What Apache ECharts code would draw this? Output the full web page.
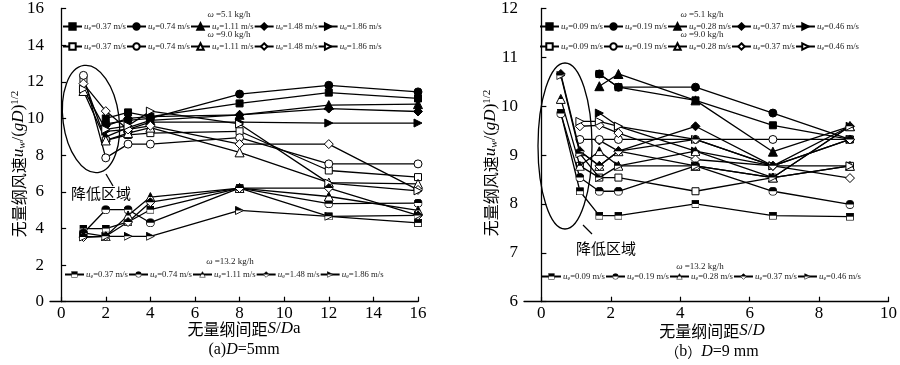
<!DOCTYPE html>
<html><head><meta charset="utf-8">
<script src="https://cdn.jsdelivr.net/npm/echarts@6/dist/echarts.min.js"></script>
<style>html,body{margin:0;padding:0;background:#fff}#c{width:900px;height:365px}</style>
</head><body><div id="c"></div>
<script>
// ---------- DATA ----------
const xLeft = [1, 2, 3, 4, 8, 12, 16];
const xRight = [0.56, 1.11, 1.67, 2.22, 4.44, 6.67, 8.89];
const xTicksLeft = [0, 2, 4, 6, 8, 10, 12, 14, 16];
const xTicksRight = [0, 2, 4, 6, 8, 10];
const speedsLeft = ['0.37', '0.74', '1.11', '1.48', '1.86'];
const speedsRight = ['0.09', '0.19', '0.28', '0.37', '0.46'];
const omegas = ['5.1', '9.0', '13.2'];

// left (D=5mm), ω=5.1
const L51_037 = [null, 10.0, 10.33, 10.1, 10.82, 11.41, 11.09];
const L51_074 = [null, 9.7, 9.9, 10.0, 11.33, 11.81, 11.45];
const L51_111 = [null, 9.0, 9.5, 9.9, 10.2, 10.73, 10.78];
const L51_148 = [null, 9.6, 10.0, 10.1, 10.2, 10.54, 10.38];
const L51_186 = [null, 9.3, 9.4, 9.8, 9.8, 9.75, 9.75];
// left, ω=9.0
const L90_037 = [12.15, 8.8, 9.1, 9.2, 9.3, 7.16, 6.8];
const L90_074 = [12.35, 7.85, 8.6, 8.6, 8.95, 7.52, 7.52];
const L90_111 = [11.5, 8.8, 9.2, 9.5, 8.15, 6.5, 6.43];
const L90_148 = [11.9, 10.4, 9.4, 9.6, 8.6, 8.6, 6.1];
const L90_186 = [11.6, 9.4, 9.6, 10.4, 9.7, 6.47, 6.05];
// left, ω=13.2
const L132_037 = [3.99, 3.99, 4.35, 5.02, 6.2, 4.66, 4.3];
const L132_074 = [3.75, 5.02, 5.02, 4.31, 6.2, 5.35, 5.38];
const L132_111 = [3.75, 3.57, 4.71, 5.71, 6.2, 5.74, 4.98];
const L132_148 = [3.53, 3.57, 4.35, 5.43, 6.2, 6.2, 4.71];
const L132_186 = [3.53, 3.57, 3.57, 3.57, 4.98, 4.66, 4.71];

// right (D=9mm), ω=5.1
const R51_009 = [null, null, 10.66, 10.39, 10.12, 9.61, 9.32];
const R51_019 = [null, null, 10.66, 10.39, 10.39, 9.86, 9.32];
const R51_028 = [null, null, 10.41, 10.66, 10.12, 9.07, 9.59];
const R51_037 = [null, null, 9.3, 9.08, 9.59, 8.78, 9.59];
const R51_046 = [null, null, 9.86, 9.59, 9.08, 8.78, 9.32];
// right, ω=9.0
const R90_009 = [null, 8.78, 8.54, 8.54, 8.26, 8.54, 8.78];
const R90_019 = [null, 9.32, 9.32, 9.32, 9.32, 9.32, 9.32];
const R90_028 = [null, 9.08, 8.78, 9.08, 8.78, 8.54, 8.78];
const R90_037 = [null, 9.59, 9.61, 9.45, 8.91, 8.78, 8.53];
const R90_046 = [null, 9.69, 9.69, 9.59, 9.32, 8.78, 8.78];
// right, ω=13.2
const R132_009 = [9.87, 8.26, 7.76, 7.76, 8.0, 7.76, 7.74];
const R132_019 = [9.85, 8.54, 8.26, 8.26, 8.78, 8.26, 7.99];
const R132_028 = [10.15, 8.78, 9.08, 8.78, 9.08, 8.54, 9.59];
const R132_037 = [10.66, 9.08, 8.78, 9.08, 9.32, 8.78, 9.32];
const R132_046 = [10.63, 9.03, 8.54, 8.78, 8.78, 8.54, 9.59];

const leftSets = [[L51_037, L51_074, L51_111, L51_148, L51_186],
                  [L90_037, L90_074, L90_111, L90_148, L90_186],
                  [L132_037, L132_074, L132_111, L132_148, L132_186]];
const rightSets = [[R51_009, R51_019, R51_028, R51_037, R51_046],
                   [R90_009, R90_019, R90_028, R90_037, R90_046],
                   [R132_009, R132_019, R132_028, R132_037, R132_046]];

// ---------- STYLE ----------
const SERIF = 'Liberation Serif, Times New Roman, serif';
const CJK = 'Noto Sans CJK SC, sans-serif';
const shapeKeys = ['sq', 'ci', 'tr', 'di', 'ar'];
const builtin = {sq: 'rect', ci: 'circle', tr: 'triangle', di: 'diamond', ar: 'path://M0,0L10,5L0,10Z'};
const sizes = {sq: 7, ci: 8, tr: 9, di: 9, ar: 8};
function halfSvg(k) {
  let outline, top;
  if (k === 'sq') { outline = "<rect x='1' y='1' width='18' height='18' fill='#fff' stroke='#000' stroke-width='2'/>"; top = "<rect x='1' y='1' width='18' height='9' fill='#000'/>"; }
  if (k === 'ci') { outline = "<circle cx='10' cy='10' r='9' fill='#fff' stroke='#000' stroke-width='2'/>"; top = "<path d='M1,10 A9,9 0 0 1 19,10 Z' fill='#000'/>"; }
  if (k === 'tr') { outline = "<polygon points='10,1 19,19 1,19' fill='#fff' stroke='#000' stroke-width='2'/>"; top = "<polygon points='10,1 14.5,10 5.5,10' fill='#000'/>"; }
  if (k === 'di') { outline = "<polygon points='10,1 19,10 10,19 1,10' fill='#fff' stroke='#000' stroke-width='2'/>"; top = "<polygon points='10,1 19,10 1,10' fill='#000'/>"; }
  if (k === 'ar') { outline = "<polygon points='1,1 19,10 1,19' fill='#fff' stroke='#000' stroke-width='2'/>"; top = "<polygon points='1,1 19,10 1,10' fill='#000'/>"; }
  const svg = "<svg xmlns='http://www.w3.org/2000/svg' width='20' height='20' viewBox='0 0 20 20'>" + outline + top + "</svg>";
  return 'image://data:image/svg+xml;charset=utf-8,' + encodeURIComponent(svg);
}

const series = [];
const legends = [];
function addPanel(panel, xs, sets, speeds, legendPos) {
  sets.forEach((group, gi) => {
    const names = [];
    group.forEach((vals, si) => {
      const k = shapeKeys[si];
      const name = panel + '|' + omegas[gi] + '|' + speeds[si];
      names.push(name);
      const data = [];
      vals.forEach((v, i) => { if (v !== null) data.push([xs[i], v]); });
      let symbol = builtin[k], itemStyle;
      if (gi === 0) itemStyle = {color: '#000', borderColor: '#000', borderWidth: 1};
      else if (gi === 1) itemStyle = {color: '#fff', borderColor: '#000', borderWidth: 1};
      else { symbol = halfSvg(k); itemStyle = {color: '#000', borderColor: '#000', borderWidth: 0}; }
      series.push({
        name, type: 'line', xAxisIndex: panel === 'L' ? 0 : 1, yAxisIndex: panel === 'L' ? 0 : 1,
        data, symbol, symbolSize: sizes[k] + (gi === 2 ? 1 : 0), showSymbol: true,
        lineStyle: {color: '#000', width: 1.3}, itemStyle, animation: false, z: 2 + gi
      });
    });
    const p = legendPos[gi];
    legends.push({
      data: names, left: p[0], top: p[1], orient: 'horizontal', itemGap: 0,
      itemWidth: 19, itemHeight: 8, padding: 0, selectedMode: false,
      formatter: n => '{i|u}{s|e}{t|=' + n.split('|')[2] + ' m/s}',
      textStyle: {color: '#222', fontFamily: SERIF, fontSize: 9, padding: [0, 0, 0, -3],
        rich: {i: {fontStyle: 'italic', fontSize: 9, fontFamily: SERIF, color: '#222'},
               s: {fontSize: 6, fontFamily: SERIF, color: '#222', padding: [4, 0, 0, 0]},
               t: {fontSize: 8.7, fontFamily: SERIF, color: '#222'}}}
    });
  });
}
addPanel('L', xLeft, leftSets, speedsLeft, [[62, 22], [62, 42], [64, 270]]);
addPanel('R', xRight, rightSets, speedsRight, [[539, 22], [539, 42], [541, 272]]);

function xAxis(grid, max, ticks) {
  return {
    type: 'value', gridIndex: grid, min: -0.5, max,
    axisLine: {show: true, lineStyle: {color: '#000', width: 1.3}},
    axisTick: {show: true, inside: true, length: 5, customValues: ticks, lineStyle: {color: '#000', width: 1.2}},
    axisLabel: {customValues: ticks, color: '#000', fontFamily: SERIF, fontSize: 17, margin: 3},
    splitLine: {show: false}
  };
}
function yAxis(grid, min, max, interval) {
  return {
    type: 'value', gridIndex: grid, min, max, interval,
    axisLine: {show: true, lineStyle: {color: '#000', width: 1.3}},
    axisTick: {show: true, inside: true, length: 5, lineStyle: {color: '#000', width: 1.2}},
    axisLabel: {color: '#000', fontFamily: SERIF, fontSize: 17, margin: 6},
    splitLine: {show: false}
  };
}

function omegaTitle(x, y, val) {
  return {type: 'text', x, y, style: {text: '{w|ω} =' + val + ' kg/h', fill: '#222', font: '9px ' + SERIF,
    align: 'center', verticalAlign: 'middle', rich: {w: {fontStyle: 'italic', fontSize: 9, fontFamily: SERIF, fill: '#222'}}}};
}
const yNameRich = {
  c: {fontFamily: CJK, fontSize: 16, fill: '#000'},
  i: {fontFamily: SERIF, fontStyle: 'italic', fontSize: 17, fill: '#000'},
  sub: {fontFamily: SERIF, fontStyle: 'italic', fontSize: 11, fill: '#000', padding: [7, 0, 0, 0]},
  r: {fontFamily: SERIF, fontSize: 17, fill: '#000'},
  sup: {fontFamily: SERIF, fontSize: 11, fill: '#000', padding: [0, 0, 8, 0]}
};
const yNameText = '{c|无量纲风速}{i|u}{sub|w}{r|/(}{i|gD}{r|)}{sup|1/2}';
function yName(x, y) {
  return {type: 'text', x, y, rotation: Math.PI / 2, style: {text: yNameText, rich: yNameRich, align: 'center', verticalAlign: 'middle'}};
}
const xNameRich = {
  c: {fontFamily: CJK, fontSize: 16, fill: '#000'},
  i: {fontFamily: SERIF, fontStyle: 'italic', fontSize: 17, fill: '#000'},
  r: {fontFamily: SERIF, fontSize: 17, fill: '#000'}
};
function txt(x, y, text, rich) {
  return {type: 'text', x, y, style: {text, rich, align: 'center', verticalAlign: 'middle'}};
}
const capRich = {
  c: {fontFamily: CJK, fontSize: 14, fill: '#000'},
  i: {fontFamily: SERIF, fontStyle: 'italic', fontSize: 16, fill: '#000'},
  r: {fontFamily: SERIF, fontSize: 16, fill: '#000'}
};
const annoStyle = {fill: 'none', stroke: '#000', lineWidth: 1.3};

const graphics = [
  omegaTitle(229, 15, '5.1'), omegaTitle(229, 35, '9.0'), omegaTitle(230, 262, '13.2'),
  omegaTitle(702, 15, '5.1'), omegaTitle(702, 35, '9.0'), omegaTitle(700, 267, '13.2'),
  yName(19, 164), yName(491, 163),
  txt(244, 329, '{c|无量纲间距}{i|S}{r|/}{i|D}{r|a}', xNameRich),
  txt(712, 331, '{c|无量纲间距}{i|S}{r|/}{i|D}', xNameRich),
  txt(244, 350, '{r|(a)}{i|D}{r|=5mm}', capRich),
  txt(712, 352, '{c|（}{r|b}{c|）}{i|D}{r|=9 mm}', capRich),
  {type: 'ellipse', x: 91, y: 119, rotation: 0.13, shape: {cx: 0, cy: 0, rx: 28, ry: 54}, style: annoStyle},
  {type: 'line', shape: {x1: 106, y1: 174, x2: 113, y2: 186}, style: {stroke: '#000', lineWidth: 1.3}},
  txt(101, 193, '{c|降低区域}', {c: {fontFamily: CJK, fontSize: 15, fill: '#000'}}),
  {type: 'ellipse', x: 565, y: 146, shape: {cx: 0, cy: 0, rx: 27, ry: 83}, style: annoStyle},
  {type: 'line', shape: {x1: 583, y1: 225, x2: 592, y2: 234}, style: {stroke: '#000', lineWidth: 1.3}},
  txt(606, 248, '{c|降低区域}', {c: {fontFamily: CJK, fontSize: 15, fill: '#000'}})
];

const chart = echarts.init(document.getElementById('c'), null, {renderer: 'canvas'});
chart.setOption({
  backgroundColor: '#fff',
  animation: false,
  grid: [
    {left: 50, top: 7.3, width: 368, height: 294.4},
    {left: 524, top: 6.7, width: 367.5, height: 295}
  ],
  xAxis: [xAxis(0, 16, xTicksLeft), xAxis(1, 10, xTicksRight)],
  yAxis: [yAxis(0, 0, 16, 2), yAxis(1, 6, 12, 1)],
  legend: legends,
  series,
  graphic: graphics
});
</script></body></html>
